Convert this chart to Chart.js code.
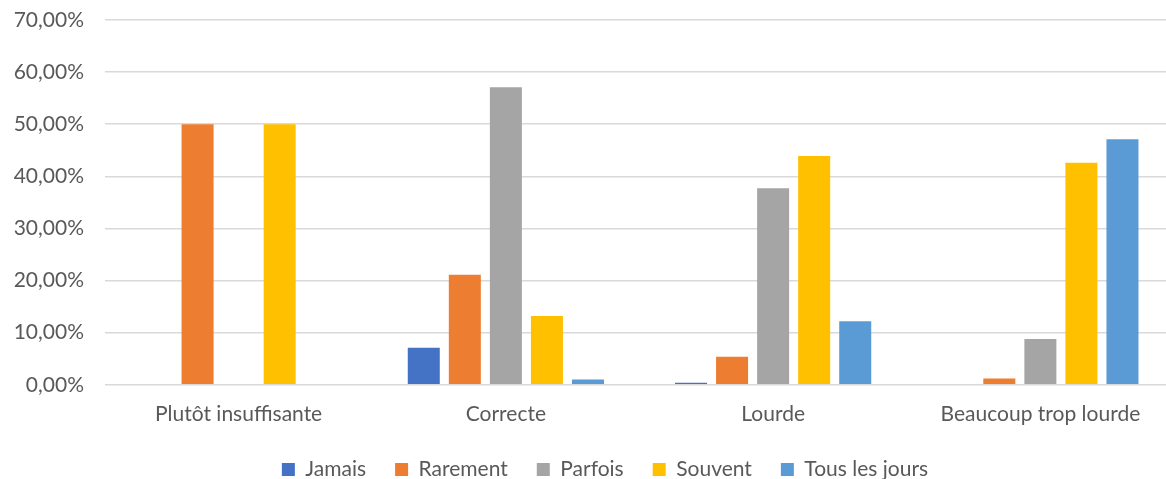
<!DOCTYPE html>
<html>
<head>
    <meta charset="utf-8">
    <title>Charge</title>
    <style>
        html, body { margin: 0; padding: 0; overflow: hidden; background: #fff; }
        #wrap { width: 1174px; height: 479px; }
    </style>
</head>
<body>
    <div id="wrap"><canvas id="chart"></canvas></div>
    <script src="https://cdn.jsdelivr.net/npm/chart.js@4"></script>
    <script>

// categories and series, in percent
const categories = ["Plutôt insuffisante", "Correcte", "Lourde", "Beaucoup trop lourde"];
const jamais = [0, 7.1, 0.4, 0];
const rarement = [50, 21.1, 5.4, 1.2];
const parfois = [0, 57.1, 37.7, 8.8];
const souvent = [50, 13.2, 43.9, 42.6];
const tousLesJours = [0, 1.0, 12.2, 47.1];
const yTicks = [0, 10, 20, 30, 40, 50, 60, 70];

let textColour = "#595959";
let font = { family: "Lato", size: 21 };

function series(label, data, colour) {
    return {
        label: label,
        data: data,
        backgroundColor: colour,
        borderWidth: 0,
        categoryPercentage: 0.768,
        barPercentage: 0.78
    }
}

// nudge the legend: the original centres it on a wider chart
let legendShift = {
    id: "legendShift",
    afterLayout: function(chart) {
        let lg = chart.legend;
        let dy = -14;
        lg.left += 36;
        lg.top += dy;
        lg.bottom += dy;
    }
};

let ctx = document.getElementById("chart").getContext("2d");
let chart = new Chart(ctx, {
    type: "bar",
    data: {
        labels: categories,
        datasets: [
            series("Jamais", jamais, "#4472C4"),
            series("Rarement", rarement, "#ED7D31"),
            series("Parfois", parfois, "#A5A5A5"),
            series("Souvent", souvent, "#FFC000"),
            series("Tous les jours", tousLesJours, "#5B9BD5")
        ]
    },
    plugins: [legendShift],
    options: {
        responsive: true,
        maintainAspectRatio: false,
        animation: false,
        layout: { padding: { left: 0, right: 0, top: 20, bottom: -25 } },
        plugins: {
            tooltip: { enabled: false },
            legend: {
                position: "bottom",
                labels: {
                    boxWidth: 13,
                    boxHeight: 13,
                    padding: 29,
                    color: textColour,
                    font: font
                }
            }
        },
        scales: {
            x: {
                grid: { display: false, drawTicks: false },
                border: { display: false },
                ticks: { color: textColour, font: font, padding: 17, maxRotation: 0 }
            },
            y: {
                min: 0,
                max: 70,
                afterFit: function(scale) {
                    scale.width = 105;
                    scale.paddingTop = 0;
                },
                afterBuildTicks: function(scale) {
                    scale.ticks = yTicks.map(function(v) { return { value: v } });
                },
                grid: { color: "#D9D9D9", lineWidth: 1.5, drawTicks: false },
                border: { display: false },
                ticks: {
                    color: textColour,
                    font: font,
                    padding: 21,
                    callback: function(v) { return v.toFixed(2).replace(".", ",") + "%"; }
                }
            }
        }
    }
});

    </script>
</body>
</html>
